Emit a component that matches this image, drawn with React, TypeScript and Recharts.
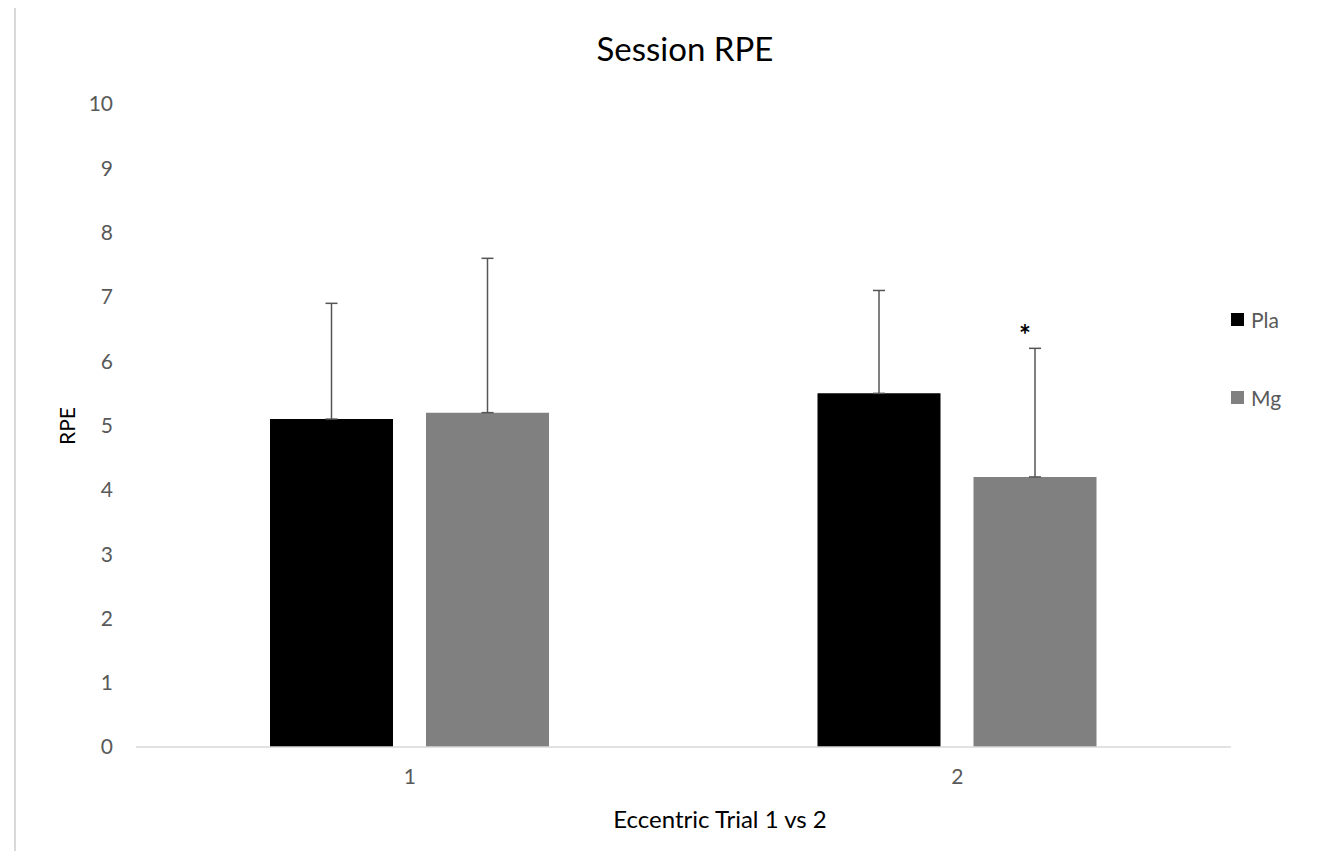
import { Bar, BarChart, ErrorBar, LabelList, Legend, XAxis, YAxis } from "recharts";

const CATEGORIES = ["1", "2"];
const PLA = [5.1, 5.5];
const PLA_SD = [1.8, 1.6];
const MG = [5.2, 4.2];
const MG_SD = [2.4, 2.0];
const SIG = ["", "*"];
const Y_TICKS = [0, 1, 2, 3, 4, 5, 6, 7, 8, 9, 10];

const FONT = "Lato, 'Open Sans', sans-serif";

const data = CATEGORIES.map((cat, i) => ({
  cat,
  pla: PLA[i],
  plaErr: [0, PLA_SD[i]],
  mg: MG[i],
  mgErr: [0, MG_SD[i]],
}));

// star sits above the top of the error bar
const Star = (props: any) => {
  const { x, y, width, height, index, value } = props;
  if (!SIG[index]) return null;
  const pxPerUnit = height / value;
  const top = y - MG_SD[index] * pxPerUnit;
  return (
    <text
      x={x + width / 2 - 10}
      y={top - 3}
      textAnchor="middle"
      fontSize={28}
      fontWeight={700}
      fontFamily={FONT}
      fill="#000"
    >
      {SIG[index]}
    </text>
  );
};

const LegendBox = () => (
  <div style={{ fontFamily: FONT, fontSize: 21, color: "#595959" }}>
    {[
      { name: "Pla", color: "#000000" },
      { name: "Mg", color: "#808080" },
    ].map((it, i) => (
      <div
        key={it.name}
        style={{ display: "flex", alignItems: "center", height: 26, marginBottom: i === 0 ? 52 : 0 }}
      >
        <span style={{ width: 13, height: 13, background: it.color, display: "inline-block", marginRight: 7 }} />
        {it.name}
      </div>
    ))}
  </div>
);

export default function App() {
  return (
    <div style={{ position: "relative", width: 1335, height: 859, margin: -8, background: "#fff", overflow: "hidden" }}>
      <div
        style={{
          position: "absolute",
          left: 14,
          top: 5,
          right: -10,
          bottom: -10,
          borderLeft: "2px solid #d9d9d9",
          borderTop: "2px solid #d9d9d9",
        }}
      />
      <div
        style={{
          position: "absolute",
          left: 0,
          width: 1370,
          top: 28,
          textAlign: "center",
          fontFamily: FONT,
          fontSize: 33,
          color: "#000",
        }}
      >
        Session RPE
      </div>
      <div
        style={{
          position: "absolute",
          left: 66,
          top: 426,
          transform: "translate(-50%, -50%) rotate(-90deg)",
          fontFamily: FONT,
          fontSize: 21,
          color: "#000",
        }}
      >
        RPE
      </div>
      <div
        style={{
          position: "absolute",
          left: 520,
          width: 400,
          top: 804,
          textAlign: "center",
          fontFamily: FONT,
          fontSize: 24,
          color: "#000",
        }}
      >
        Eccentric Trial 1 vs 2
      </div>
      <BarChart
        width={1335}
        height={859}
        data={data}
        margin={{ top: 104, right: 4, bottom: 72, left: 0 }}
        barSize={123}
        barGap={33}
        style={{ position: "absolute", left: 0, top: 0 }}
      >
        <XAxis
          dataKey="cat"
          height={40}
          axisLine={{ stroke: "#d9d9d9", strokeWidth: 1.5 }}
          tickLine={false}
          tickSize={0}
          tickMargin={22}
          tick={{ fill: "#595959", fontSize: 21, fontFamily: FONT }}
        />
        <YAxis
          width={136}
          domain={[0, 10]}
          ticks={Y_TICKS}
          interval={0}
          axisLine={false}
          tickLine={false}
          tickSize={0}
          tickMargin={23}
          tick={{ fill: "#595959", fontSize: 21, fontFamily: FONT }}
        />
        <Legend
          layout="vertical"
          align="right"
          verticalAlign="top"
          content={<LegendBox />}
          wrapperStyle={{ left: 1231, top: 306, width: 100 }}
        />
        <Bar dataKey="pla" name="Pla" fill="#000000" isAnimationActive={false}>
          <ErrorBar dataKey="plaErr" direction="y" width={6} stroke="#555555" strokeWidth={1.5} />
        </Bar>
        <Bar dataKey="mg" name="Mg" fill="#808080" isAnimationActive={false}>
          <ErrorBar dataKey="mgErr" direction="y" width={6} stroke="#555555" strokeWidth={1.5} />
          <LabelList dataKey="mg" content={<Star />} />
        </Bar>
      </BarChart>
    </div>
  );
}
